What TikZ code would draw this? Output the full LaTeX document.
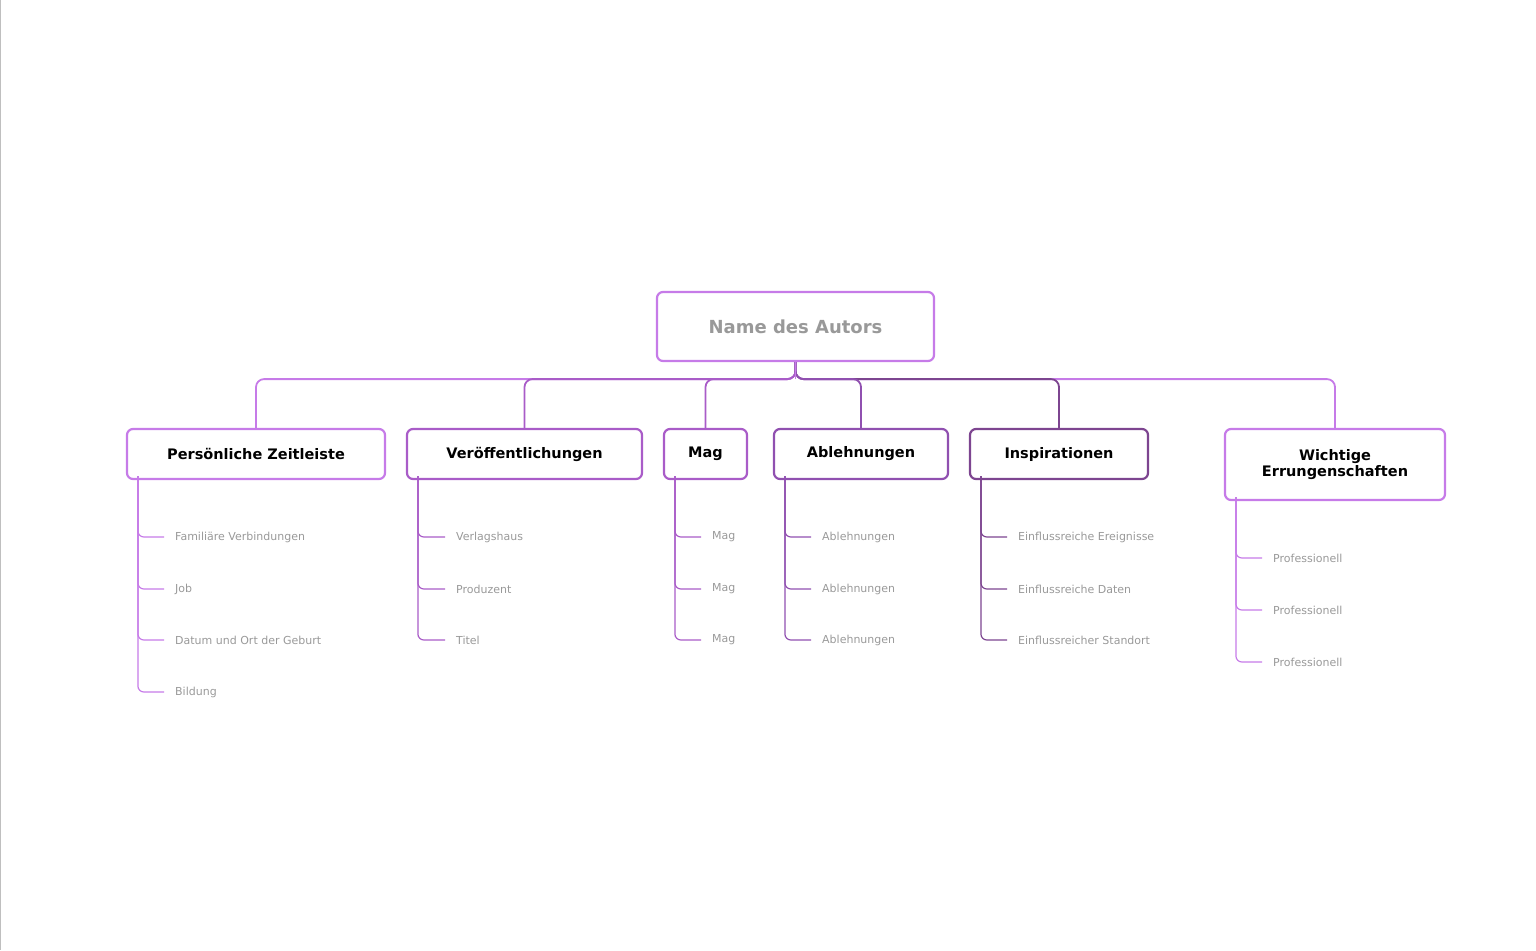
\documentclass[tikz,border=0pt]{standalone}
\usepackage{fontspec}
\setmainfont{DejaVu Sans}
\usetikzlibrary{positioning}
\definecolor{lila}{HTML}{C67BE8}
\definecolor{mittel}{HTML}{A95CC8}
\definecolor{dunkel}{HTML}{9050B0}
\definecolor{tief}{HTML}{7D4590}
\definecolor{grautext}{HTML}{999999}
\begin{document}
\begin{tikzpicture}[x=1pt,y=-1pt,
    box/.style ={draw=#1, line width=2.2pt, rounded corners=6pt, fill=white,
                 font=\bfseries\fontsize{14.5}{16}\selectfont, align=center, inner sep=0pt},
    ast/.style ={draw=#1, line width=1.8pt, rounded corners=8pt},
    blatt/.style ={anchor=west, inner sep=0pt, text=grautext,
                 font=\fontsize{11}{13}\selectfont},
    zweig/.style ={draw=#1, line width=1.2pt, rounded corners=6pt}]
  \useasboundingbox (0,0) rectangle (1536,950);
  \draw[black!25] (0.5,0) -- (0.5,950);
  \node[box=lila, minimum width=277pt, minimum height=69pt, text=grautext,
        font=\bfseries\fontsize{18}{20}\selectfont] (root) at (795.5,326.5) {Name des Autors};
  \node[box=lila, minimum width=258pt, minimum height=50pt] (pers) at (256,454) {Persönliche Zeitleiste};
  \node[box=mittel, minimum width=235pt, minimum height=50pt] (veroe) at (524.5,454) {Veröffentlichungen};
  \node[box=mittel, minimum width=83pt, minimum height=50pt] (mag) at (705.5,454) {Mag};
  \node[box=dunkel, minimum width=174pt, minimum height=50pt] (ablehn) at (861,454) {Ablehnungen};
  \node[box=tief, minimum width=178pt, minimum height=50pt] (insp) at (1059,454) {Inspirationen};
  \node[box=lila, minimum width=220pt, minimum height=71pt] (wicht) at (1335,464.5) {Wichtige\\Errungenschaften};
  % Verbindungen zur Wurzel
  \draw[ast=lila] (root.south) -- ++(0,17) -| (pers.north);
  \draw[ast=lila] (root.south) -- ++(0,17) -| (wicht.north);
  \draw[ast=tief] (root.south) -- ++(0,17) -| (insp.north);
  \draw[ast=mittel] (root.south) -- ++(0,17) -| (veroe.north);
  \draw[ast=mittel] (root.south) -- ++(0,17) -| (mag.north);
  \draw[ast=dunkel] (root.south) -- ++(0,17) -| (ablehn.north);
  \draw[lila, line width=1.8pt] (root.south) -- ++(0,17);
  % Blaetter
  \foreach \name/\farbe/\x/\y/\txt in {
      pers/lila/175/537/Familiäre Verbindungen, pers/lila/175/589/Job,
      pers/lila/175/640/Datum und Ort der Geburt, pers/lila/175/692/Bildung,
      veroe/mittel/456/537/Verlagshaus, veroe/mittel/456/589/Produzent, veroe/mittel/456/640/Titel,
      mag/mittel/712/537/Mag, mag/mittel/712/589/Mag, mag/mittel/712/640/Mag,
      ablehn/dunkel/822/537/Ablehnungen, ablehn/dunkel/822/589/Ablehnungen, ablehn/dunkel/822/640/Ablehnungen,
      insp/tief/1018/537/Einflussreiche Ereignisse, insp/tief/1018/589/Einflussreiche Daten,
      insp/tief/1018/640/Einflussreicher Standort,
      wicht/lila/1273/558/Professionell, wicht/lila/1273/610/Professionell, wicht/lila/1273/662/Professionell}{
    \node[blatt] (b-\x-\y) at (\x,\y) {\txt};
    \draw[zweig=\farbe] ([xshift=12pt,yshift=4pt]\name.south west) |- ([xshift=-11pt]b-\x-\y.west);
  }
\end{tikzpicture}
\end{document}
